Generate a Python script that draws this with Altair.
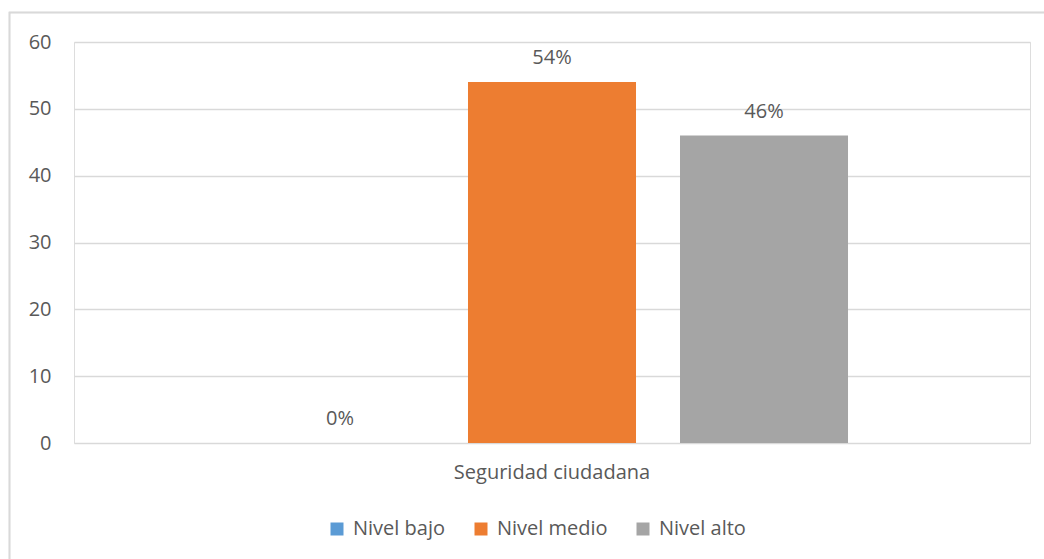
import altair as alt
import pandas as pd

niveles = ["Nivel bajo", "Nivel medio", "Nivel alto"]
valores = [0, 54, 46]
etiquetas = ["0%", "54%", "46%"]
colores = ["#5B9BD5", "#ED7D31", "#A5A5A5"]
categoria = "Seguridad ciudadana"
y_ticks = [0, 10, 20, 30, 40, 50, 60]

df = pd.DataFrame({"Categoria": [categoria] * 3, "Nivel": niveles,
                   "Valor": valores, "Etiqueta": etiquetas})

FONT = "Open Sans"
TXT = "#595959"
FS = 20

x_enc = alt.X(
    "Categoria:N",
    scale=alt.Scale(paddingInner=0, paddingOuter=0.3074),
    axis=alt.Axis(title=None, ticks=False, domain=False, labelAngle=0, labelLimit=0,
                  labelFont=FONT, labelFontSize=FS, labelColor=TXT,
                  labelPadding=19),
)
xo_enc = alt.XOffset("Nivel:N", sort=niveles,
                     scale=alt.Scale(paddingInner=0.2075, paddingOuter=0))
y_enc = alt.Y(
    "Valor:Q",
    scale=alt.Scale(domain=[0, 60], nice=False),
    axis=alt.Axis(values=y_ticks, title=None, domain=False, ticks=False,
                  labelFont=FONT, labelFontSize=FS, labelColor=TXT,
                  labelPadding=23, grid=True, gridColor="#d9d9d9", gridWidth=1.3),
)

bars = alt.Chart(df).mark_bar().encode(
    x=x_enc,
    xOffset=xo_enc,
    y=y_enc,
    color=alt.Color(
        "Nivel:N",
        sort=niveles,
        scale=alt.Scale(domain=niveles, range=colores),
        legend=alt.Legend(orient="none", direction="horizontal", title=None,
                          legendX=253, legendY=477,
                          symbolType="square", symbolSize=169, symbolStrokeWidth=0,
                          labelFont=FONT, labelFontSize=FS, labelColor=TXT,
                          labelOffset=6, columnPadding=25),
    ),
)

text = alt.Chart(df).mark_text(font=FONT, fontSize=FS, color=TXT, baseline="middle", dy=-24).encode(
    x=alt.X("Categoria:N"),
    xOffset=alt.XOffset("Nivel:N", sort=niveles),
    y="Valor:Q",
    text="Etiqueta:N",
)

border = alt.Chart(df).mark_rect(fill=None, stroke="#d9d9d9", strokeWidth=1.5).encode(
    x=alt.value(-64.5), x2=alt.value(1100), y=alt.value(-29.5), y2=alt.value(700)
)

chart = alt.layer(bars, text, border).properties(
    width=956, height=401,
    autosize=alt.AutoSizeParams(type="none"),
    padding={"left": 74, "top": 42, "right": 14, "bottom": 116},
).configure_view(stroke=None).configure(background="white")

chart.save("out.html", embed_options={"renderer": "svg", "actions": False})
